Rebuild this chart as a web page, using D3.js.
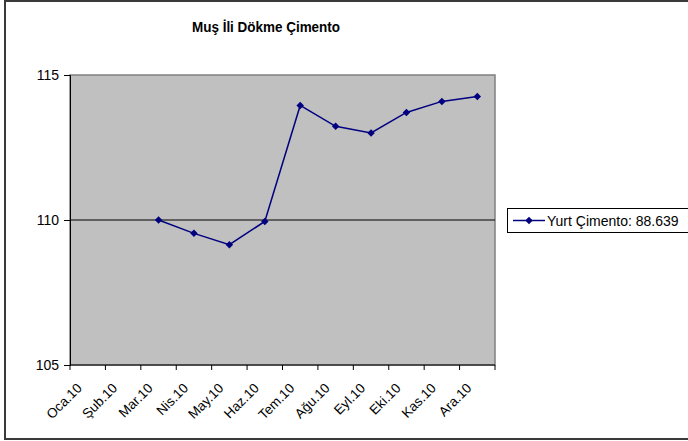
<!DOCTYPE html>
<html>
<head>
<meta charset="utf-8">
<script src="https://cdn.jsdelivr.net/npm/d3@7"></script>
<style>
  body { margin: 0; background: #fff; }
  svg text { font-family: "Liberation Sans", Arial, sans-serif; fill: #000; }
</style>
</head>
<body>
<div id="chart"></div>
<script>
// Chart data
const months = ["Oca.10", "Şub.10", "Mar.10", "Nis.10", "May.10", "Haz.10",
                "Tem.10", "Ağu.10", "Eyl.10", "Eki.10", "Kas.10", "Ara.10"];
const values = [null, null, 110.0, 109.54, 109.15, 109.95,
                113.95, 113.23, 113.0, 113.71, 114.09, 114.26];
const yTicks = [105, 110, 115];
const seriesName = "Yurt Çimento: 88.639";
const chartTitle = "Muş İli Dökme Çimento";

// Layout
const width = 688, height = 441;
const plot = { left: 70, right: 495, top: 75, bottom: 365 };
const lineColor = "#000080";

let svg = d3.select("#chart")
    .append("svg")
    .attr("width", width)
    .attr("height", height);

// Outer chart border
svg.append("rect")
    .attr("x", 5).attr("y", 1)
    .attr("width", 720).attr("height", 438)
    .attr("fill", "#fff")
    .attr("stroke", "#3a3a3a")
    .attr("stroke-width", 2);

// Title
svg.append("text")
    .attr("x", 266).attr("y", 32)
    .attr("text-anchor", "middle")
    .style("font-size", "14px")
    .style("font-weight", "bold")
    .attr("textLength", 148)
    .attr("lengthAdjust", "spacingAndGlyphs")
    .text(chartTitle);

// Scales
let x = d3.scaleBand().domain(months).range([plot.left, plot.right]);
let xEdge = d3.scaleLinear().domain([0, months.length]).range([plot.left, plot.right]);
let y = d3.scaleLinear().domain([105, 115]).range([plot.bottom, plot.top]);

// Plot area background
svg.append("rect")
    .attr("x", plot.left).attr("y", plot.top)
    .attr("width", plot.right - plot.left)
    .attr("height", plot.bottom - plot.top)
    .attr("fill", "#c0c0c0")
    .attr("stroke", "#808080")
    .attr("stroke-width", 1.5);

// Horizontal gridlines (inner ones only)
svg.selectAll("line.grid")
    .data(yTicks.filter(d => d !== 105 && d !== 115))
    .enter()
    .append("line")
    .attr("class", "grid")
    .attr("x1", plot.left).attr("x2", plot.right)
    .attr("y1", d => y(d)).attr("y2", d => y(d))
    .attr("stroke", "#000")
    .attr("stroke-width", 1);

// Y axis
let yAxis = d3.axisLeft(y)
    .tickValues(yTicks)
    .tickSize(6)
    .tickPadding(5)
    .tickFormat(d3.format("d"));
let yG = svg.append("g")
    .attr("transform", `translate(${plot.left},0)`)
    .call(yAxis);
yG.select(".domain").attr("stroke", "#000");
yG.selectAll(".tick line").attr("stroke", "#000");
yG.selectAll("text")
    .style("font-size", "14px")
    .style("font-family", "'Liberation Sans', Arial, sans-serif")
    .attr("fill", "#000");

// X axis line and ticks at category edges
svg.append("line")
    .attr("x1", plot.left).attr("x2", plot.right)
    .attr("y1", plot.bottom).attr("y2", plot.bottom)
    .attr("stroke", "#000");
svg.selectAll("line.xtick")
    .data(d3.range(months.length + 1))
    .enter()
    .append("line")
    .attr("class", "xtick")
    .attr("x1", d => xEdge(d)).attr("x2", d => xEdge(d))
    .attr("y1", plot.bottom).attr("y2", plot.bottom + 5)
    .attr("stroke", "#000");

// Rotated category labels
svg.selectAll("text.xlabel")
    .data(months)
    .enter()
    .append("text")
    .attr("class", "xlabel")
    .attr("text-anchor", "end")
    .style("font-size", "13.5px")
    .attr("transform", d => `translate(${x(d) + x.bandwidth() / 2 - 5},389) rotate(-45)`)
    .text(d => d);

// Series line
let points = months.map((m, i) => ({ m: m, v: values[i] }));
let line = d3.line()
    .defined(d => d.v !== null)
    .x(d => x(d.m) + x.bandwidth() / 2)
    .y(d => y(d.v));

svg.append("path")
    .datum(points)
    .attr("d", line)
    .attr("fill", "none")
    .attr("stroke", lineColor)
    .attr("stroke-width", 1.5);

// Diamond markers
let diamond = d3.symbol().type(d3.symbolSquare).size(28);
svg.selectAll("path.marker")
    .data(points.filter(d => d.v !== null))
    .enter()
    .append("path")
    .attr("class", "marker")
    .attr("d", diamond)
    .attr("transform", d => `translate(${x(d.m) + x.bandwidth() / 2},${y(d.v)}) rotate(45)`)
    .attr("fill", lineColor);

// Legend
let legend = svg.append("g").attr("transform", "translate(507,208)");
legend.append("rect")
    .attr("x", 0.5).attr("y", 0.5)
    .attr("width", 200).attr("height", 24)
    .attr("fill", "#fff")
    .attr("stroke", "#000");
legend.append("line")
    .attr("x1", 6).attr("x2", 38)
    .attr("y1", 12.5).attr("y2", 12.5)
    .attr("stroke", lineColor)
    .attr("stroke-width", 1.5);
legend.append("path")
    .attr("d", diamond)
    .attr("transform", "translate(22,12.5) rotate(45)")
    .attr("fill", lineColor);
legend.append("text")
    .attr("x", 40).attr("y", 17.5)
    .style("font-size", "14px")
    .text(seriesName);
</script>
</body>
</html>
